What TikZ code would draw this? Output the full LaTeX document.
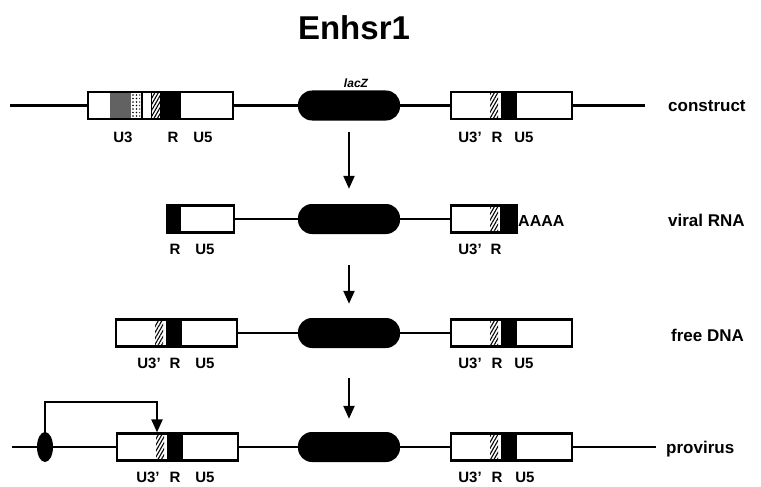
\documentclass[tikz,border=0pt]{standalone}
\usepackage{fontspec}
\setmainfont{Liberation Sans}
\usetikzlibrary{arrows.meta,patterns.meta,shapes.geometric}
\tikzset{
  ln/.style={line width=2.2pt},
  ltr/.style={draw, line width=2.2pt, minimum height=27pt, inner sep=0pt},
  lacz/.style={fill=black, rounded corners=14pt, minimum width=102pt, minimum height=30pt, inner sep=0pt},
  lab/.style={font=\fontsize{15}{15}\selectfont\bfseries, inner sep=0pt},
  side/.style={font=\fontsize{17}{17}\selectfont\bfseries, anchor=west, inner sep=0pt},
  tip/.style={-{Triangle[width=11pt,length=13pt]}, line width=2.2pt},
  hatch/.style={fill=white, postaction={pattern={Lines[angle=60,distance=3pt,line width=1.1pt]}}},
  stip/.style={fill=black!50, postaction={pattern={Dots[radius=0.6pt,distance=2pt]}}},
  sparse/.style={fill=white, postaction={pattern={Dots[radius=0.8pt,distance=3.5pt]}}}
}
\newcommand\ltrfill[2]{%
  \fill[white] (#1,#2) rectangle ++(121,27);
  \path[hatch] (#1+39,#2) rectangle ++(8,27);
  \fill[black] (#1+50,#2) rectangle ++(16,27);
}
\begin{document}
\begin{tikzpicture}[x=1pt,y=-1pt]
\useasboundingbox (0,0) rectangle (761,487);
% title
\node[font=\fontsize{33}{33}\selectfont\bfseries] (title) at (354,28) {Enhsr1};

% ---------- fills ----------
% row 1 left box 88-233, y 92-119
\fill[white] (88,92) rectangle (233,119);
\path[stip] (110,92) rectangle (131,119);
\path[sparse] (131,92) rectangle (140,119);
\fill[black] (141,92) rectangle (181,119);
\fill[white] (143,92) rectangle (151,119);
\path[hatch] (152,92) rectangle (160,119);
% row 1 right
\ltrfill{451}{92}
% row 2 left 167-234
\fill[white] (167,205.5) rectangle (234,232.5);
\fill[black] (167,205.5) rectangle (181,232.5);
% row 2 right 451-517
\fill[white] (451,205.5) rectangle (517,232.5);
\path[hatch] (490,205.5) rectangle (498,232.5);
\fill[black] (500,205.5) rectangle (517,232.5);
% row 3
\ltrfill{116}{319.5}
\ltrfill{451}{319.5}
% row 4
\ltrfill{117}{433.5}
\ltrfill{451}{433.5}

% ---------- nodes ----------
% row 1
\coordinate (s1) at (10,105.5);
\coordinate (e1) at (645,105.5);
\node[ltr, minimum width=145pt] (L1) at (160.5,105.5) {};
\node[lacz] (Z1) at (349,105.5) {};
\node[ltr, minimum width=121pt] (R1) at (511.5,105.5) {};
% row 2
\node[ltr, minimum width=67pt] (L2) at (200.5,219) {};
\node[lacz] (Z2) at (349,219) {};
\node[ltr, minimum width=66pt] (R2) at (484,219) {};
% row 3
\node[ltr, minimum width=121pt] (L3) at (176.5,333) {};
\node[lacz] (Z3) at (349,333) {};
\node[ltr, minimum width=121pt] (R3) at (511.5,333) {};
% row 4
\coordinate (s4) at (12,447);
\coordinate (e4) at (656,447);
\node[ellipse, fill=black, minimum width=16pt, minimum height=30pt, inner sep=0pt] (P) at (45,447) {};
\node[ltr, minimum width=121pt] (L4) at (177.5,447) {};
\node[lacz] (Z4) at (349,447) {};
\node[ltr, minimum width=121pt] (R4) at (511.5,447) {};

% ---------- connectors ----------
\draw[ln] (s1) -- (L1.west);
\draw[ln] (L1.east) -- (Z1.west);
\draw[ln] (Z1.east) -- (R1.west);
\draw[ln] (R1.east) -- (e1);
\draw[ln] (L2.east) -- (Z2.west);
\draw[ln] (Z2.east) -- (R2.west);
\draw[ln] (L3.east) -- (Z3.west);
\draw[ln] (Z3.east) -- (R3.west);
\draw[ln] (s4) -- (P.west);
\draw[ln] (P.east) -- (L4.west);
\draw[ln] (L4.east) -- (Z4.west);
\draw[ln] (Z4.east) -- (R4.west);
\draw[ln] (R4.east) -- (e4);

\draw[tip, shorten <=11pt, shorten >=15pt] (Z1.south) -- (Z2.north);
\draw[tip, shorten <=31pt, shorten >=14pt] (Z2.south) -- (Z3.north);
\draw[tip, shorten <=30pt, shorten >=13pt] (Z3.south) -- (Z4.north);

\coordinate (bend) at (157,402);
\draw[tip, line cap=rect] (P.north) |- (bend) -- (bend |- L4.north);

% ---------- labels ----------
\node[font=\fontsize{12}{12}\selectfont\bfseries\itshape] (lz) at (356,83) {lacZ};
\node[lab] (a1) at (123,137) {U3};
\node[lab] (a2) at (173,137) {R};
\node[lab] (a3) at (203,137) {U5};
\node[lab] (a4) at (470,137) {U3'};
\node[lab] (a5) at (497,137) {R};
\node[lab] (a6) at (524,137) {U5};

\node[lab] (b1) at (175,249) {R};
\node[lab] (b2) at (205,249) {U5};
\node[lab] (b3) at (470,249) {U3'};
\node[lab] (b4) at (496,249) {R};
\node[font=\fontsize{16}{16}\selectfont\bfseries, anchor=west, inner sep=0pt] (aaaa) at (518,221) {AAAA};

\node[lab] (c1) at (149,363) {U3'};
\node[lab] (c2) at (175,363) {R};
\node[lab] (c3) at (205,363) {U5};
\node[lab] (c4) at (470,363) {U3'};
\node[lab] (c5) at (497,363) {R};
\node[lab] (c6) at (524,363) {U5};

\node[lab] (d1) at (148,477) {U3'};
\node[lab] (d2) at (175,477) {R};
\node[lab] (d3) at (205,477) {U5};
\node[lab] (d4) at (470,477) {U3'};
\node[lab] (d5) at (497,477) {R};
\node[lab] (d6) at (525,477) {U5};

\node[side] (t1) at (668,106) {construct};
\node[side] (t2) at (668,220) {viral RNA};
\node[side] (t3) at (671,335) {free DNA};
\node[side] (t4) at (666,449) {provirus};
\end{tikzpicture}
\end{document}
